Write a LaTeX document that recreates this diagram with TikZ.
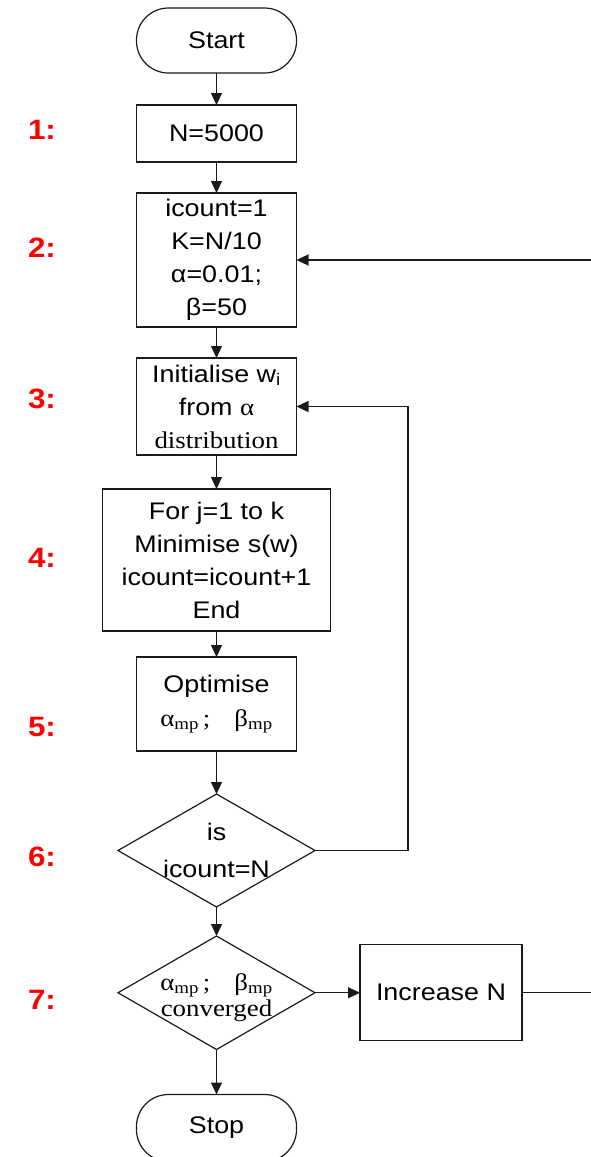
\documentclass[tikz,border=0pt]{standalone}
\usepackage{fontspec}
\setmainfont{Liberation Sans}[FakeStretch=1.12]
\newfontfamily\tms{Liberation Serif}[FakeStretch=1.12]
\usepackage{tikz}
\usetikzlibrary{arrows.meta,positioning,shapes.geometric}
\definecolor{ink}{HTML}{1A1A1A}
\definecolor{stepred}{HTML}{FF0000}
\newcommand{\sbmp}{\textsubscript{mp}}
\tikzset{
  box/.style={draw=ink,fill=white,line width=1.2pt,outer sep=0pt,align=center,inner sep=3pt,minimum width=160pt,font=\fontsize{24}{33}\selectfont},
  term/.style={box,rounded corners=32pt,minimum height=65pt},
  dec/.style={draw=ink,fill=white,line width=1.2pt,outer sep=0pt,shape=diamond,align=center,inner sep=-14pt,minimum width=197pt,minimum height=113pt,font=\fontsize{24}{33}\selectfont},
  num/.style={font=\fontsize{28}{30}\selectfont\bfseries\color{stepred}},
  arr/.style={-{Triangle[length=12pt,width=11pt]},line width=1.2pt,color=ink},
  wire/.style={line width=1.2pt,color=ink},
}
\begin{document}
\begin{tikzpicture}[x=1pt,y=-1pt]
\useasboundingbox (0,0) rectangle (590,1157);
\node[term] (start) at (216.5,40.5) {Start};
\node[box,below=32pt of start,minimum height=57pt] (n1) {N=5000};
\node[box,below=31pt of n1,minimum height=134pt] (init) {icount=1\\K=N/10\\α=0.01;\\β=50};
\node[box,below=31pt of init,minimum height=97pt] (wts) {Initialise w\textsubscript{i}\\from {\tms α}\\{\tms distribution}};
\node[box,below=34pt of wts,minimum width=228pt,minimum height=142pt] (minim) {For j=1 to k\\Minimise s(w)\\icount=icount+1\\End};
\node[box,below=26pt of minim,minimum height=94pt] (opt) {Optimise\\[1pt]{\tms α\sbmp\,;\quad β\sbmp}};
\node[dec,below=43pt of opt] (chk) {is\\[4pt]icount=N};
\node[dec,below=29pt of chk,font=\fontsize{24}{26}\selectfont\tms,text height=52pt] (conv) {α\sbmp\,;\quad β\sbmp\\converged};
\node[box,right=45pt of conv,minimum width=162pt,minimum height=96pt] (incN) {Increase N};
\node[term,below=45pt of conv,minimum height=67pt] (stop) {Stop};
\foreach \n/\y in {1/130,2/248,3/399,4/558,5/727,6/857,7/1000}
  \node[num] (lab\n) at (42,\y) {\n:};
\coordinate[right=93pt of chk.east] (loop);
\coordinate[right=294pt of init.east] (back);
\coordinate[right=70pt of incN.east] (out);
\draw[arr](start)--(n1);\draw[arr](n1)--(init);\draw[arr](init)--(wts);\draw[arr](wts)--(minim);
\draw[arr](minim)--(opt);\draw[arr](opt)--(chk);\draw[arr](chk)--(conv);\draw[arr](conv)--(stop);
\draw[arr](conv)--(incN);\draw[wire](incN)--(out);\draw[arr](back)--(init);
\draw[arr](chk.east)--(loop)|-(wts.east);
\end{tikzpicture}
\end{document}
